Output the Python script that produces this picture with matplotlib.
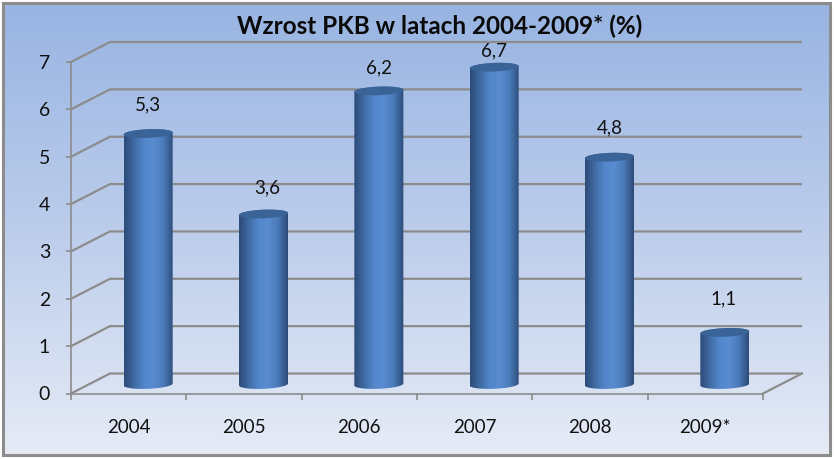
import numpy as np
import matplotlib
matplotlib.use("Agg")
import matplotlib.pyplot as plt
from matplotlib.colors import LinearSegmentedColormap
from matplotlib.patches import Polygon, Rectangle

years = ["2004", "2005", "2006", "2007", "2008", "2009*"]
growth = [5.3, 3.6, 6.2, 6.7, 4.8, 1.1]
value_labels = ["5,3", "3,6", "6,2", "6,7", "4,8", "1,1"]
y_ticks = [0, 1, 2, 3, 4, 5, 6, 7]
title = "Wzrost PKB w latach 2004-2009* (%)"

# style / layout
W, H = 834, 459
FONT = "Lato"
GRID = "#8c8c8c"
label_dx_px = [0, 4, 0, 0, 0, -1]
label_dy_px = [29, 26, 23, 16, 29, 34]

fig = plt.figure(figsize=(W / 100, H / 100), dpi=100, facecolor="white")

# background panel
bg = fig.add_axes([0, 0, 1, 1], zorder=0)
bg.set_xlim(0, W); bg.set_ylim(H, 0); bg.axis("off")
bg_cmap = LinearSegmentedColormap.from_list("bg", ["#98b4e2", "#bccdeb", "#e6ebf6"])
bg.imshow(np.linspace(0, 1, 256)[:, None], cmap=bg_cmap, extent=(3, 830, 455, 3), aspect="auto")
bg.set_xlim(0, W); bg.set_ylim(H, 0)
bg.add_patch(Rectangle((3, 3), 827, 452, fill=False, ec=GRID, lw=2.2))

# plot axes = front plane of the 3-D box
x0, x1, y0, y7 = 71, 763, 393.5, 62
ax = fig.add_axes([x0 / W, 1 - y0 / H, (x1 - x0) / W, (y0 - y7) / H], zorder=1)
ax.patch.set_alpha(0)
n = len(years)
px_x = (x1 - x0) / n
px_y = (y0 - y7) / 7
dx = 39 / px_x      # depth offset, categories
dy = 20 / px_y      # depth offset, values
lw = 1.6

# walls
for v in y_ticks:
    ax.plot([0, dx, n + dx], [v, v + dy, v + dy], color=GRID, lw=lw, clip_on=False, zorder=1,
            solid_capstyle="butt", solid_joinstyle="miter")
ax.plot([n, n + dx], [0, dy], color=GRID, lw=lw, clip_on=False, zorder=1)

# cylinders
cyl_cmap = LinearSegmentedColormap.from_list(
    "cyl", ["#2c4b78", "#3f6ba3", "#5387cb", "#588bd0", "#4a7ab8", "#2c4b78"])
half_w = 24.5 / px_x
semi = 4.3 / px_y
skew = 1.0 / px_y
shift = -1.0 / px_y
t = np.linspace(0, 2 * np.pi, 90)
for i, v in enumerate(growth):
    cx = i + 0.5 + dx / 2
    base = dy / 2 + shift
    top = v + dy / 2 + shift
    ex = cx + half_w * np.cos(t)
    lower = t[(t >= np.pi)]
    upper = t[t <= np.pi]
    # body: bottom arc + top arc
    bx = cx + half_w * np.cos(lower)
    by = base + semi * np.sin(lower) + skew * np.cos(lower)
    tx = cx + half_w * np.cos(upper)
    ty = top + semi * np.sin(upper) + skew * np.cos(upper)
    body = Polygon(np.column_stack([np.r_[bx, tx], np.r_[by, ty]]), closed=True,
                   transform=ax.transData, fc="none", ec="none")
    ax.add_patch(body)
    im = ax.imshow(np.linspace(0, 1, 128)[None, :], cmap=cyl_cmap, aspect="auto", zorder=3,
                   extent=(cx - half_w, cx + half_w, base - semi * 1.5, top + semi * 1.5))
    im.set_clip_path(body)
    ax.fill(ex, top + semi * np.sin(t) + skew * np.cos(t), color="#3a6397", lw=0,
            zorder=4, clip_on=False)
    ax.annotate(value_labels[i], xy=(cx, top), xytext=(label_dx_px[i] * 0.72, label_dy_px[i] * 0.72),
                textcoords="offset points", ha="center", va="center", fontsize=13.5,
                family=FONT, color="#111111", annotation_clip=False, zorder=5)

ax.set_xlim(0, n)
ax.set_ylim(0, 7)
ax.set_yticks(y_ticks)
ax.set_xticks(np.arange(n) + 0.5, years)
ax.set_xticks(np.arange(n + 1), minor=True)
ax.tick_params(axis="x", which="major", length=0, pad=18.5, labelsize=13.5, labelcolor="#111111")
ax.tick_params(axis="x", which="minor", length=4.3, width=1.2, color=GRID, direction="out")
ax.tick_params(axis="y", length=3.6, width=1.2, color=GRID, pad=11.5, labelsize=14, labelcolor="#111111")
for lab in ax.get_xticklabels() + ax.get_yticklabels():
    lab.set_family(FONT)
for s in ("top", "right"):
    ax.spines[s].set_visible(False)
for s in ("left", "bottom"):
    ax.spines[s].set_color(GRID)
    ax.spines[s].set_linewidth(1.2)
    ax.spines[s].set_zorder(2)

fig.text(440 / W, 1 - 26 / H, title, ha="center", va="center", fontsize=17.5,
         fontweight="bold", family=FONT, color="#0a0a0a")

fig.savefig("out.png", dpi=100, facecolor="white")
